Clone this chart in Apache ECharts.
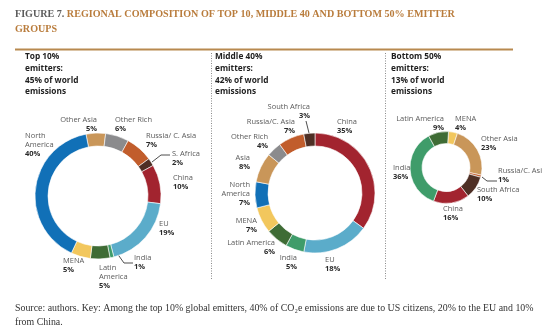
<!DOCTYPE html>
<html>
<head>
<meta charset="utf-8">
<script src="https://cdn.jsdelivr.net/npm/echarts@6/dist/echarts.min.js"></script>
<style>
  html, body { margin: 0; padding: 0; background: #fff; }
  #chart { width: 557px; height: 336px; }
</style>
</head>
<body>
<div id="chart"></div>
<script>
// Regional shares (%) of CO2e emissions within each emitter group
const topNames = ['Other Asia', 'Other Rich', 'Russia/ C. Asia', 'S. Africa', 'China', 'EU', 'India', 'Latin America', 'MENA', 'North America'];
const topShares = [5, 6, 7, 2, 10, 19, 1, 5, 5, 40];

const midNames = ['China', 'EU', 'India', 'Latin America', 'MENA', 'North America', 'Asia', 'Other Rich', 'Russia/C. Asia', 'South Africa'];
const midShares = [35, 18, 5, 6, 7, 7, 8, 4, 7, 3];

const botNames = ['MENA', 'Other Asia', 'Russia/C. Asi', 'South Africa', 'China', 'India', 'Latin America'];
const botShares = [4, 23, 1, 10, 16, 36, 9];

const groupTitles = [
  'Top 10%\nemitters:\n45% of world\nemissions',
  'Middle 40%\nemitters:\n42% of world\nemissions',
  'Bottom 50%\nemitters:\n13% of world\nemissions'
];

// Region colours
const regionColor = {
  'North America': '#1170b7',
  'Other Asia': '#c99659',
  'Asia': '#c99659',
  'Other Rich': '#8b8b8d',
  'Russia/ C. Asia': '#c15d2c',
  'Russia/C. Asia': '#c15d2c',
  'Russia/C. Asi': '#c15d2c',
  'S. Africa': '#4e2f25',
  'South Africa': '#4e2f25',
  'China': '#a2242f',
  'EU': '#5bacca',
  'India': '#3f9c6a',
  'Latin America': '#3f6c35',
  'MENA': '#f2c75d'
};

// Label placement per slice: [x, top y, align, wrapped name]
const topLabelPos = [
  [97, 115.5, 'right'], [115, 115.5, 'left'], [146, 131.5, 'left'], [172, 149.5, 'left'],
  [173, 173.5, 'left'], [159, 219.5, 'left'], [134, 253.5, 'left'],
  [99, 263.5, 'left', 'Latin\nAmerica'], [63, 256.5, 'left'], [25, 131.5, 'left', 'North\nAmerica']
];
const midLabelPos = [
  [337, 117.5, 'left'], [325, 255.5, 'left'], [297, 253.5, 'right'], [275, 238.5, 'right'],
  [257, 216.5, 'right'], [250, 180.5, 'right', 'North\nAmerica'], [250, 153.5, 'right'],
  [268, 132.5, 'right'], [295, 117.5, 'right'], [310, 102.5, 'right']
];
const botLabelPos = [
  [455, 114.5, 'left'], [481, 134.5, 'left'], [498, 166.5, 'left'], [477, 185.5, 'left'],
  [443, 204.5, 'left'], [393, 163.5, 'left'], [444, 114.5, 'right']
];

// Leader lines for the thin slices
const topLeaders = { 3: [[152, 162], [161, 155], [170, 155]], 6: [[114, 249], [124, 263], [133, 263]] };
const midLeaders = { 9: [[306, 121], [309, 133]] };
const botLeaders = { 2: [[482, 177], [487, 181], [497, 181]] };

function buildSeries(names, shares, center, radius, startAngle, labelPos, leaders) {
  return {
    type: 'pie',
    center: center,
    radius: radius,
    startAngle: startAngle,
    clockwise: true,
    avoidLabelOverlap: false,
    silent: true,
    itemStyle: { borderColor: '#ffffff', borderWidth: 0.6 },
    label: {
      show: true,
      position: 'outside',
      formatter: function (p) {
        const pos = labelPos[p.dataIndex];
        const txt = pos[3] || p.name;
        return '{n|' + txt + '}\n{v|' + p.value + '%}';
      },
      rich: {
        n: { fontFamily: 'Open Sans', fontSize: 7.5, color: '#5a5a5a', lineHeight: 9 },
        v: { fontFamily: 'Open Sans', fontSize: 7.5, fontWeight: 'bold', color: '#2a2a2a', lineHeight: 9 }
      }
    },
    labelLine: { show: false, lineStyle: { color: '#3a3a3a', width: 0.9 } },
    labelLayout: function (params) {
      const pos = labelPos[params.dataIndex];
      const out = { x: pos[0], y: pos[1], align: pos[2], verticalAlign: 'top' };
      if (leaders[params.dataIndex]) out.labelLinePoints = leaders[params.dataIndex];
      return out;
    },
    data: names.map(function (n, i) {
      return {
        name: n,
        value: shares[i],
        itemStyle: { color: regionColor[n] },
        labelLine: { show: !!leaders[i] }
      };
    })
  };
}

const chart = echarts.init(document.getElementById('chart'), null, { renderer: 'canvas' });

const headerText = groupTitles.map(function (t, i) {
  return {
    type: 'text',
    left: [25, 215, 391][i],
    top: 51,
    style: {
      text: t,
      fontFamily: 'Open Sans',
      fontWeight: 'bold',
      fontSize: 8.3,
      lineHeight: 11.7,
      fill: '#1e1e1e'
    }
  };
});

chart.setOption({
  animation: false,
  backgroundColor: '#ffffff',
  series: [
    buildSeries(topNames, topShares, [98, 196], [50, 63], 101, topLabelPos, topLeaders),
    buildSeries(midNames, midShares, [315, 193], [47, 60], 90, midLabelPos, midLeaders),
    buildSeries(botNames, botShares, [446, 167.5], [24, 36], 86, botLabelPos, botLeaders)
  ],
  graphic: [
    {
      type: 'text',
      left: 15,
      top: 9.5,
      style: {
        text: '{a|FIGURE 7. }{b|REGIONAL COMPOSITION OF TOP 10, MIDDLE 40 AND BOTTOM 50% EMITTER}\n{b|GROUPS}',
        rich: {
          a: { fontFamily: 'Liberation Serif', fontWeight: 'bold', fontSize: 10.1, fill: '#5c5c5c', lineHeight: 15 },
          b: { fontFamily: 'Liberation Serif', fontWeight: 'bold', fontSize: 10.1, fill: '#b97c3c', lineHeight: 15 }
        }
      }
    },
    {
      type: 'line',
      shape: { x1: 15, y1: 49.5, x2: 513, y2: 49.5 },
      style: { stroke: '#b8894f', lineWidth: 2 }
    },
    {
      type: 'line',
      shape: { x1: 211.5, y1: 53, x2: 211.5, y2: 280 },
      style: { stroke: '#8a8a8a', lineWidth: 1, lineDash: [1, 1.5] }
    },
    {
      type: 'line',
      shape: { x1: 385.5, y1: 53, x2: 385.5, y2: 280 },
      style: { stroke: '#8a8a8a', lineWidth: 1, lineDash: [1, 1.5] }
    }
  ].concat(headerText).concat([
    {
      type: 'text',
      left: 15,
      top: 301,
      style: {
        text: 'Source: authors. Key: Among the top 10% global emitters, 40% of CO\u2082e emissions are due to US citizens, 20% to the EU and 10%\nfrom China.',
        fontFamily: 'Liberation Serif',
        fontSize: 9.9,
        lineHeight: 14,
        fill: '#333333'
      }
    }
  ])
});
</script>
</body>
</html>
